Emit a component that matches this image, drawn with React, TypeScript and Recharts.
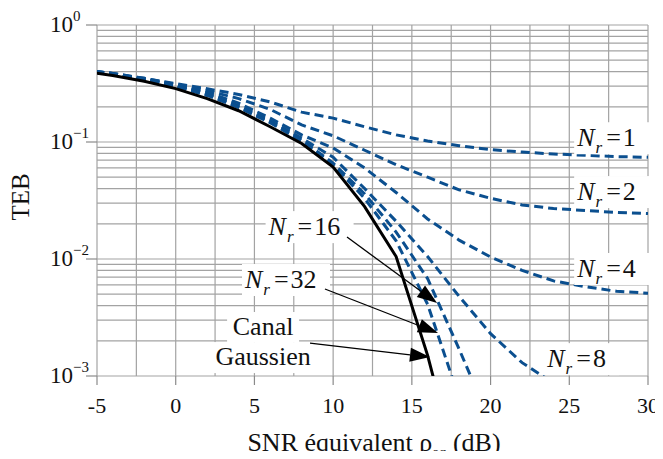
import { LineChart, Line, XAxis, YAxis, CartesianGrid } from 'recharts';

// SNR équivalent (dB)
const snr = [-6, -4, -2, 0, 2, 4, 6, 8, 10, 12, 14, 16, 18, 20, 22, 24, 26, 28, 30];

// TEB values
const gauss = [0.405, 0.37, 0.33, 0.286, 0.235, 0.185, 0.135, 0.097, 0.061, 0.028, 0.0105, 0.0015, 0.00014, null, null, null, null, null, null];
const nr1 = [0.415, 0.385, 0.35, 0.315, 0.285, 0.255, 0.22, 0.18, 0.16, 0.135, 0.115, 0.102, 0.093, 0.086, 0.082, 0.079, 0.077, 0.075, 0.074];
const nr2 = [0.415, 0.385, 0.35, 0.31, 0.275, 0.235, 0.19, 0.14, 0.113, 0.085, 0.064, 0.05, 0.039, 0.033, 0.029, 0.027, 0.026, 0.025, 0.0245];
const nr4 = [0.415, 0.385, 0.345, 0.305, 0.265, 0.215, 0.16, 0.115, 0.089, 0.06, 0.037, 0.022, 0.0145, 0.0104, 0.008, 0.0065, 0.0058, 0.0053, 0.0051];
const nr8 = [0.415, 0.38, 0.345, 0.3, 0.26, 0.205, 0.152, 0.108, 0.074, 0.04, 0.021, 0.0105, 0.0048, 0.0023, 0.0013, 0.00087, null, null, null];
const nr16 = [0.415, 0.38, 0.34, 0.3, 0.255, 0.2, 0.148, 0.104, 0.066, 0.036, 0.017, 0.0068, 0.0017, 0.0004, null, null, null, null, null];
const nr32 = [0.415, 0.38, 0.34, 0.298, 0.25, 0.197, 0.146, 0.102, 0.064, 0.033, 0.0143, 0.0041, 0.00065, null, null, null, null, null, null];

const xTicks = [-5, -2.5, 0, 2.5, 5, 7.5, 10, 12.5, 15, 17.5, 20, 22.5, 25, 27.5, 30];
const yTicks = [1, 2, 3, 4, 5, 6, 7, 8, 9].flatMap((m) => [m * 0.001, m * 0.01, m * 0.1]).concat([1]).sort((a, b) => a - b);

const data = snr.map((s, i) => ({
  snr: s,
  gauss: gauss[i],
  nr1: nr1[i],
  nr2: nr2[i],
  nr4: nr4[i],
  nr8: nr8[i],
  nr16: nr16[i],
  nr32: nr32[i],
}));

const dashedKeys = ['nr1', 'nr2', 'nr4', 'nr8', 'nr16', 'nr32'];

const W = 655;
const H = 443;
const PL = 89;
const PT = 17;
const PW = 551;
const PH = 351;
const FONT = 'Liberation Serif, Times New Roman, DejaVu Serif, serif';
const BLUE = '#0b4f8f';
const GRID = '#a3a3a3';

const px = (db: number) => PL + ((db + 5) / 35) * PW;
const py = (v: number) => PT + (-Math.log10(v) / 3) * PH;

const YTick = (props: any) => {
  const { y, payload } = props;
  const l = Math.log10(payload.value);
  const e = Math.round(l);
  if (Math.abs(l - e) > 1e-6) return <g />;
  return (
    <g>
      <line x1={PL - 11} x2={PL} y1={y} y2={y} stroke="#8a8a8a" strokeWidth={1.2} />
      <text x={42} y={y + 7} fontSize={23} style={{ fontFamily: FONT }} fill="#111">
        10
        <tspan dy={-11} fontSize={15}>{e === 0 ? '0' : '\u2212' + -e}</tspan>
      </text>
    </g>
  );
};

const XTick = (props: any) => {
  const { x, payload } = props;
  if (payload.value % 5 !== 0) return <g />;
  return (
    <g>
      <line x1={x} x2={x} y1={PT + PH} y2={PT + PH + 9} stroke="#8a8a8a" strokeWidth={1.2} />
      <text x={x} y={405} textAnchor="middle" fontSize={22} style={{ fontFamily: FONT }} fill="#111">
        {String(payload.value)}
      </text>
    </g>
  );
};

const NrLabel = ({ db, v, n }: { db: number; v: number; n: string }) => {
  const x = px(db);
  const y = py(v);
  const w = 62 + 13 * n.length;
  return (
    <g>
      <rect x={x - 3} y={y - 24} width={w} height={32} fill="#fff" />
      <text x={x} y={y} fontSize={26} style={{ fontFamily: FONT }} fill="#111">
        <tspan fontStyle="italic">N</tspan>
        <tspan fontStyle="italic" fontSize={17} dy={7} dx={1}>r</tspan>
        <tspan dy={-7} dx={4}>=</tspan>
        <tspan dx={2}>{n}</tspan>
      </text>
    </g>
  );
};

const Arrow = ({ from, to }: { from: [number, number]; to: [number, number] }) => {
  const x1 = px(from[0]);
  const y1 = py(from[1]);
  const x2 = px(to[0]);
  const y2 = py(to[1]);
  const len = Math.hypot(x2 - x1, y2 - y1);
  const ux = (x2 - x1) / len;
  const uy = (y2 - y1) / len;
  const bx = x2 - ux * 20;
  const by = y2 - uy * 20;
  const pts = `${x2},${y2} ${bx - uy * 7},${by + ux * 7} ${bx + uy * 7},${by - ux * 7}`;
  return (
    <g>
      <line x1={x1} y1={y1} x2={bx} y2={by} stroke="#000" strokeWidth={1.3} />
      <polygon points={pts} fill="#000" />
    </g>
  );
};

export default function App() {
  return (
    <div style={{ position: 'relative', width: W, height: H, fontFamily: FONT }}>
      <LineChart width={W} height={H} data={data} margin={{ top: PT, right: W - PL - PW, bottom: 0, left: 0 }}>
        <CartesianGrid stroke={GRID} strokeWidth={1.2} />
        <XAxis
          dataKey="snr"
          type="number"
          domain={[-5, 30]}
          ticks={xTicks}
          interval={0}
          allowDataOverflow
          axisLine={false}
          tickLine={false}
          height={75}
          tick={<XTick />}
        />
        <YAxis
          type="number"
          scale="log"
          domain={[0.001, 1]}
          ticks={yTicks}
          interval={0}
          allowDataOverflow
          axisLine={false}
          tickLine={false}
          width={PL}
          tick={<YTick />}
        />
        {dashedKeys.map((k) => (
          <Line
            key={k}
            dataKey={k}
            type="linear"
            stroke={BLUE}
            strokeWidth={3}
            strokeDasharray="9 5"
            dot={false}
            isAnimationActive={false}
          />
        ))}
        <Line dataKey="gauss" type="linear" stroke="#000" strokeWidth={3} dot={false} isAnimationActive={false} />
      </LineChart>
      <svg
        width={W}
        height={H + 14}
        style={{ position: 'absolute', left: 0, top: 0, overflow: 'visible', pointerEvents: 'none', fontFamily: FONT }}
      >
        <NrLabel db={25.5} v={0.092} n="1" />
        <NrLabel db={25.5} v={0.0319} n="2" />
        <NrLabel db={25.5} v={0.00702} n="4" />
        <NrLabel db={23.6} v={0.00119} n="8" />
        <NrLabel db={5.9} v={0.016} n="16" />
        <NrLabel db={4.4} v={0.00565} n="32" />
        <rect x={px(5.55) - 36} y={py(0.00224) - 23} width={72} height={30} fill="#fff" />
        <rect x={px(5.55) - 52} y={py(0.00124) - 23} width={104} height={31} fill="#fff" />
        <text x={px(5.55)} y={py(0.00224)} textAnchor="middle" fontSize={26} fill="#111">
          Canal
        </text>
        <text x={px(5.55)} y={py(0.00124)} textAnchor="middle" fontSize={26} fill="#111">
          Gaussien
        </text>
        <Arrow from={[10.88, 0.0154]} to={[16.6, 0.0042]} />
        <Arrow from={[9.48, 0.00554]} to={[16.66, 0.00233]} />
        <Arrow from={[8.53, 0.00191]} to={[16.15, 0.00145]} />
        <text
          x={15}
          y={189}
          transform="rotate(-90 15 189)"
          textAnchor="middle"
          dominantBaseline="middle"
          fontSize={25}
          fill="#111"
        >
          TEB
        </text>
        <text x={366} y={443} textAnchor="middle" fontSize={26} fill="#111">
          SNR équivalent ρ<tspan fontSize={15} dy={6}>eq</tspan>
          <tspan dy={-6}> (dB)</tspan>
        </text>
      </svg>
    </div>
  );
}
